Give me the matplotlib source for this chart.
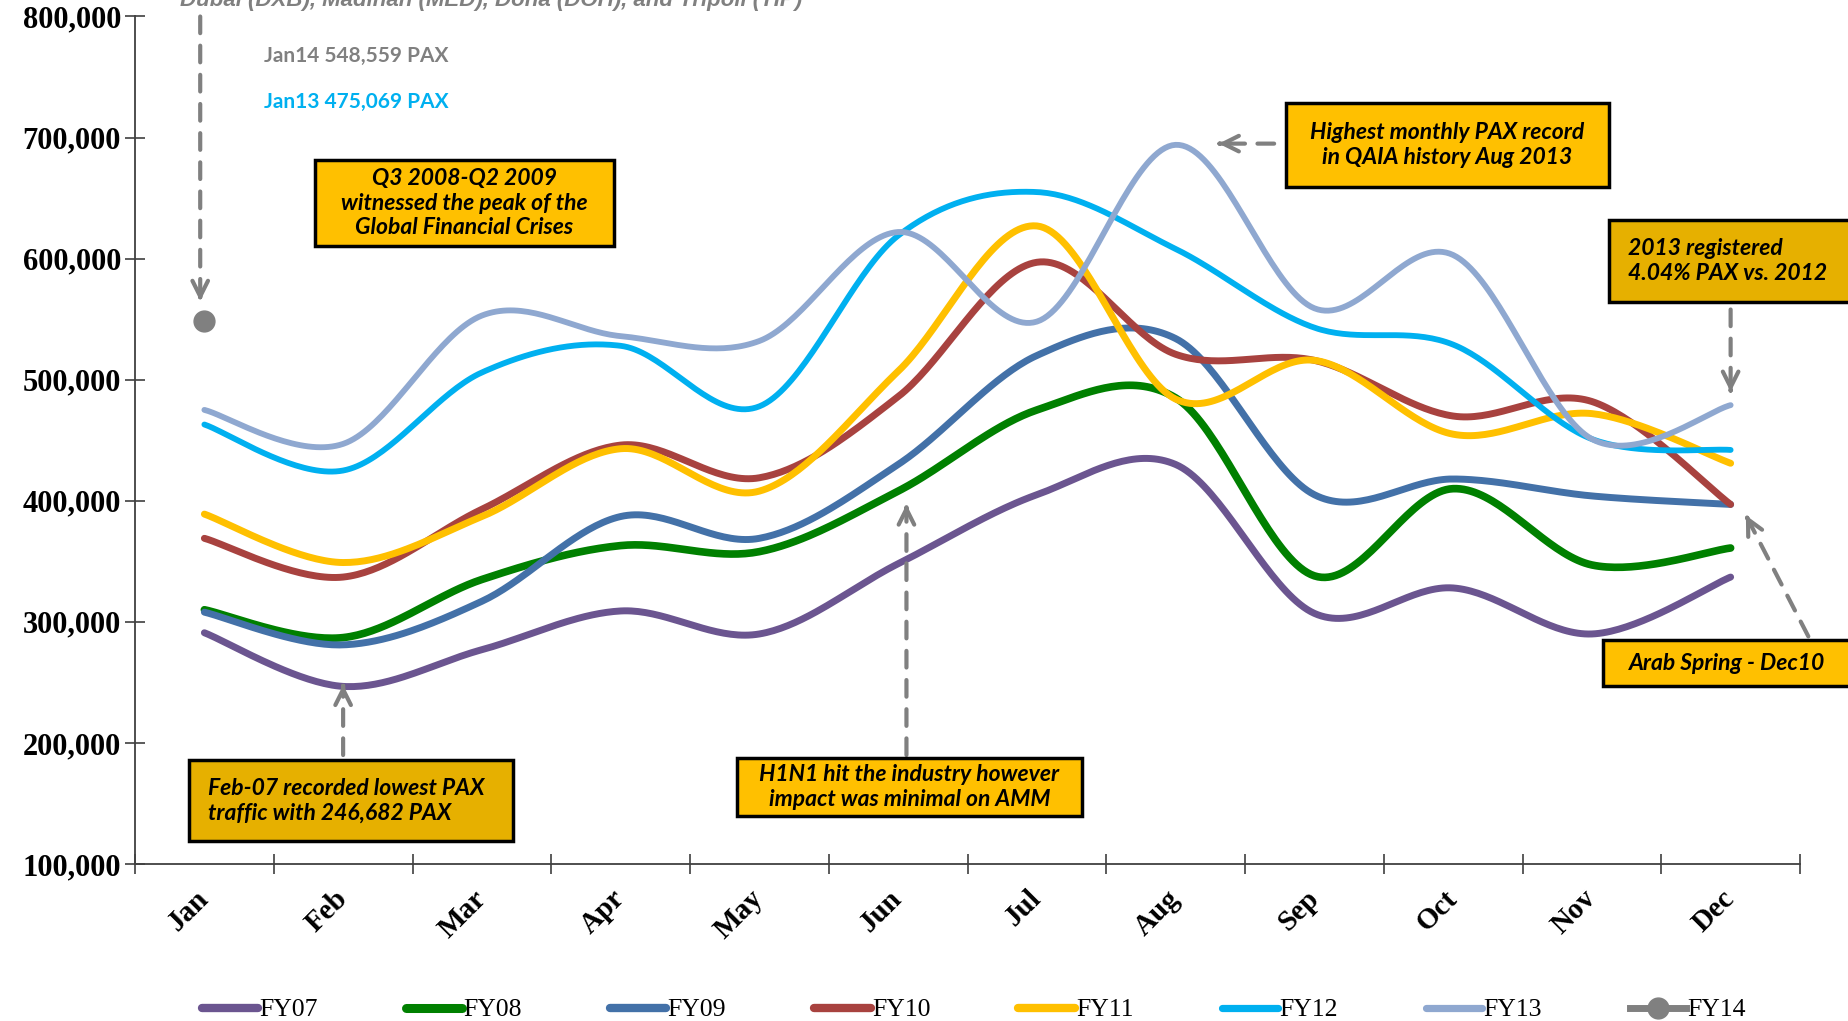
import numpy as np
import matplotlib
matplotlib.use('Agg')
import matplotlib.pyplot as plt
from matplotlib.patches import Rectangle
from matplotlib.lines import Line2D

# monthly PAX per fiscal year
months = ['Jan', 'Feb', 'Mar', 'Apr', 'May', 'Jun', 'Jul', 'Aug', 'Sep', 'Oct', 'Nov', 'Dec']
fy07 = [291000, 246682, 277000, 309000, 290000, 348000, 405000, 430000, 307000, 328000, 290000, 337000]
fy08 = [310000, 287000, 335000, 363000, 358000, 408000, 475000, 485000, 338000, 410000, 347000, 361000]
fy09 = [308000, 281000, 317000, 387000, 369000, 430000, 520000, 534000, 405000, 418000, 404000, 397000]
fy10 = [369000, 337000, 393000, 446000, 419000, 486000, 597000, 521000, 516000, 470000, 482000, 397000]
fy11 = [389000, 349000, 387000, 443000, 408000, 507000, 627000, 484000, 516000, 455000, 472000, 431000]
fy12 = [463000, 425000, 506000, 528000, 478000, 619000, 655000, 608000, 543000, 529000, 451000, 442000]
fy13 = [475069, 447000, 553000, 536000, 532000, 622000, 548000, 694000, 559000, 603000, 451000, 479000]
fy14 = [548559]

series = [('FY07', fy07, '#6B5590', 5.0),
          ('FY08', fy08, '#008000', 5.5),
          ('FY09', fy09, '#4371A8', 5.0),
          ('FY10', fy10, '#A8423F', 5.0),
          ('FY11', fy11, '#FFC000', 5.0),
          ('FY12', fy12, '#00B0F0', 4.2),
          ('FY13', fy13, '#8FA8D0', 4.2)]
grey = '#808080'


def smooth(x, y, n=40):
    # bezier smoothing like a spreadsheet "smoothed line"
    pts = np.column_stack([x, y]).astype(float)
    P = np.vstack([pts[0], pts, pts[-1]])
    out = []
    t = np.linspace(0, 1, n)[:, None]
    for i in range(1, len(P) - 2):
        p0, p1, p2, p3 = P[i - 1], P[i], P[i + 1], P[i + 2]
        c1 = p1 + (p2 - p0) / 6
        c2 = p2 - (p3 - p1) / 6
        seg = (1 - t)**3 * p1 + 3 * (1 - t)**2 * t * c1 + 3 * (1 - t) * t**2 * c2 + t**3 * p2
        out.append(seg)
    s = np.vstack(out)
    return s[:, 0], s[:, 1]


W, H = 1848, 1021
fig = plt.figure(figsize=(W / 100, H / 100), dpi=100)
ax = fig.add_axes([135 / W, 1 - 864 / H, (1800 - 135) / W, (864 - 16.5) / H])

x = np.arange(len(months))
handles = []
for name, vals, col, lw in series:
    sx, sy = smooth(x, vals)
    ax.plot(sx, sy, color=col, lw=lw, solid_capstyle='round', zorder=3)
    handles.append(Line2D([], [], color=col, lw=lw + 1, solid_capstyle='round', label=name))
ax.plot(x[:len(fy14)], fy14, 'o', color=grey, ms=15, zorder=4)
handles.append(Line2D([], [], color=grey, lw=5, marker='o', ms=15, label='FY14'))

ax.set_xlim(-0.5, 11.5)
ax.set_ylim(100000, 800000)
ax.set_xticks(np.arange(-0.5, 12, 1))
ax.set_xticklabels([])
ax.set_xticks(x, minor=True)
ax.set_xticklabels(months, minor=True, rotation=45, ha='right', va='center',
                   rotation_mode='anchor', family='Liberation Serif', fontweight='bold', fontsize=21)
ax.tick_params(axis='x', which='minor', length=0, pad=22)
ax.tick_params(axis='x', which='major', direction='inout', length=14, width=1.2, color='#404040')
ax.set_yticks(np.arange(100000, 800001, 100000))
ax.set_yticklabels([f'{v:,}' for v in range(100000, 800001, 100000)],
                   family='Liberation Serif', fontweight='bold', fontsize=22)
ax.tick_params(axis='y', direction='inout', length=14, width=1.2, color='#404040', pad=3)
for s in ['top', 'right']:
    ax.spines[s].set_visible(False)
for s in ['left', 'bottom']:
    ax.spines[s].set_color('#404040')
    ax.spines[s].set_linewidth(1.3)


def arrow(tip, tail):
    # dashed shaft plus a solid open head
    tip = np.array(tip, float)
    tail = np.array(tail, float)
    ax.annotate('', xy=tip, xytext=tail, annotation_clip=False,
                arrowprops=dict(arrowstyle='-', linestyle=(0, (4, 3)), lw=3, color=grey,
                                shrinkA=0, shrinkB=2))
    ax.annotate('', xy=tip, xytext=tip + (tail - tip) * 0.02, annotation_clip=False,
                arrowprops=dict(arrowstyle='->', lw=3, color=grey, mutation_scale=28,
                                shrinkA=0, shrinkB=0))


arrow((-0.03, 565000), (-0.03, 800000))
arrow((1.0, 248000), (1.0, 190000))
arrow((5.06, 397000), (5.06, 190000))
arrow((7.31, 695000), (7.71, 695000))
arrow((11.0, 490000), (11.0, 558000))
arrow((11.11, 388000), (11.56, 288000))

ax.text(0.43, 767000, 'Jan14 548,559 PAX', color=grey, family='Lato', fontweight='bold',
        fontsize=15, va='center')
ax.text(0.43, 729000, 'Jan13 475,069 PAX', color='#00B0F0', family='Lato', fontweight='bold',
        fontsize=15, va='center')

fig.text(180 / W, 1 - 6 / H, 'Dubai (DXB), Madinah (MED), Doha (DOH), and Tripoli (TIP)',
         color=grey, family='Liberation Sans', style='italic', fontweight='bold', fontsize=16,
         va='baseline', ha='left')


def box(x0, y0, x1, y1, text, fc, ha='center', tx=None):
    fig.add_artist(Rectangle((x0 / W, 1 - y1 / H), (x1 - x0) / W, (y1 - y0) / H,
                             transform=fig.transFigure, fc=fc, ec='black', lw=2.5, zorder=5))
    if tx is None:
        tx = (x0 + x1) / 2
    fig.text(tx / W, 1 - (y0 + y1) / 2 / H, text, ha=ha, va='center', multialignment=ha,
             family='Lato', style='italic', fontweight='bold', fontsize=16.5,
             linespacing=1.2, zorder=6)


gold = '#FFC000'
dgold = '#E6B000'
box(315, 160, 614, 246, 'Q3 2008-Q2 2009\nwitnessed the peak of the\nGlobal Financial Crises', gold)
box(1286, 103, 1609, 187, 'Highest monthly PAX record\nin QAIA history Aug 2013', gold)
box(1609, 220, 1860, 302, '2013 registered\n4.04% PAX vs. 2012', dgold, ha='left', tx=1628)
box(1603, 640, 1860, 686, 'Arab Spring - Dec10', gold, tx=1727)
box(189, 760, 513, 841, 'Feb-07 recorded lowest PAX\ntraffic with 246,682 PAX', dgold, ha='left', tx=208)
box(737, 758, 1082, 816, 'H1N1 hit the industry however\nimpact was minimal on AMM', gold)

fig.legend(handles=handles, loc='center', bbox_to_anchor=(0.527, 1 - 1010 / H), ncol=8,
           frameon=False, handlelength=2.2, handletextpad=0.05, columnspacing=3.42,
           prop={'family': 'Liberation Serif', 'size': 18.5})

fig.savefig('out.png', dpi=100)
